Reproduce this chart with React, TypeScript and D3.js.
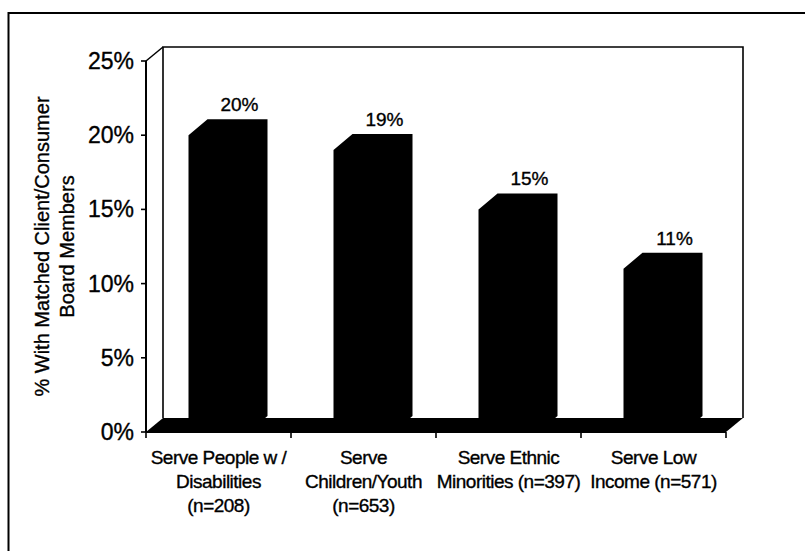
import React from "react";
import * as d3 from "d3";

// Share of organizations with board members matching their client/consumer group
const categories = ["disabilities", "children", "minorities", "lowIncome"];
const values = [20, 19, 15, 11];
const valueLabels = ["20%", "19%", "15%", "11%"];
const categoryLines = [
  ["Serve People w /", "Disabilities", "(n=208)"],
  ["Serve", "Children/Youth", "(n=653)"],
  ["Serve Ethnic", "Minorities (n=397)"],
  ["Serve Low", "Income (n=571)"],
];
const yTicks = [0, 5, 10, 15, 20, 25];
const yTitleLines = ["% With Matched Client/Consumer", "Board Members"];

const W = 805;
const H = 551;
const FONT = "'Liberation Sans', Arial, Helvetica, sans-serif";

// plot frame (front plane)
const left = 146;
const right = 726;
const bottom = 432;
const top = 61;
// wall depth offset and bar depth offset
const wallDx = 17;
const wallDy = -14;
const barDx = 19;
const barDy = -16;
const barWidth = 60;

const textStroke = { stroke: "#000", strokeWidth: 0.35 };

export default function App() {
  const x = d3.scaleBand<string>().domain(categories).range([left, right]);
  const y = d3.scaleLinear().domain([0, 25]).range([bottom, top]);
  const bw = x.bandwidth();

  const pts = (p: [number, number][]) => p.map((d) => d.join(",")).join(" ");

  return (
    <svg
      width={W}
      height={H}
      style={{ position: "absolute", left: 0, top: 0, background: "#fff" }}
      fontFamily={FONT}
    >
      {/* outer frame */}
      <rect x={8.5} y={13} width={W} height={H} fill="none" stroke="#000" strokeWidth={2} />

      {/* back wall outline */}
      <polyline
        points={pts([
          [left + wallDx, y(0) + wallDy],
          [left + wallDx, top + wallDy],
          [right + wallDx, top + wallDy],
          [right + wallDx, y(0) + wallDy],
        ])}
        fill="none"
        stroke="#000"
        strokeWidth={1.6}
      />
      {/* side wall top edge */}
      <line x1={left} y1={top} x2={left + wallDx} y2={top + wallDy} stroke="#000" strokeWidth={1.5} />

      {/* floor */}
      <polygon
        points={pts([
          [left, bottom],
          [right, bottom],
          [right + wallDx, bottom + wallDy],
          [left + wallDx, bottom + wallDy],
        ])}
        fill="#000"
      />

      {/* bars: front, top and side faces as one solid outline */}
      {categories.map((c, i) => {
        const x0 = (x(c) as number) + (bw - barWidth) / 2;
        const x1 = x0 + barWidth;
        const yt = y(values[i]);
        return (
          <g key={c}>
            <polygon
              points={pts([
                [x0, bottom],
                [x0, yt],
                [x0 + barDx, yt + barDy],
                [x1 + barDx, yt + barDy],
                [x1 + barDx, bottom + barDy],
                [x1, bottom],
              ])}
              fill="#000"
            />
            <text
              x={(x0 + barDx + x1 + barDx) / 2 + 2}
              y={yt + barDy - 8}
              textAnchor="middle"
              fontSize={19}
              fill="#000"
              {...textStroke}
            >
              {valueLabels[i]}
            </text>
          </g>
        );
      })}

      {/* y axis */}
      <line x1={left} y1={top} x2={left} y2={bottom} stroke="#000" strokeWidth={2} />
      {yTicks.map((t) => (
        <g key={t}>
          <line x1={left - 5} x2={left} y1={y(t)} y2={y(t)} stroke="#000" strokeWidth={1.6} />
          <text
            x={left - 12}
            y={y(t)}
            textAnchor="end"
            dominantBaseline="central"
            fontSize={23}
            fill="#000"
            {...textStroke}
          >
            {t}%
          </text>
        </g>
      ))}

      {/* x axis ticks */}
      <line x1={left} y1={bottom} x2={right} y2={bottom} stroke="#000" strokeWidth={2} />
      {[...categories.map((c) => x(c) as number), right].map((tx, i) => (
        <line key={i} x1={tx} x2={tx} y1={bottom} y2={bottom + 6} stroke="#000" strokeWidth={1.6} />
      ))}

      {/* category labels */}
      {categories.map((c, i) => (
        <text
          key={c}
          x={(x(c) as number) + bw / 2}
          textAnchor="middle"
          fontSize={19}
          letterSpacing={-0.5}
          fill="#000"
          {...textStroke}
        >
          {categoryLines[i].map((line, j) => (
            <tspan key={j} x={(x(c) as number) + bw / 2} y={464 + j * 24}>
              {line}
            </tspan>
          ))}
        </text>
      ))}

      {/* y axis title */}
      <text
        transform={`translate(0, ${(top + bottom) / 2}) rotate(-90)`}
        textAnchor="middle"
        fontSize={20}
        fill="#000"
        {...textStroke}
      >
        {yTitleLines.map((line, j) => (
          <tspan key={j} x={0} y={49 + j * 25}>
            {line}
          </tspan>
        ))}
      </text>
    </svg>
  );
}
